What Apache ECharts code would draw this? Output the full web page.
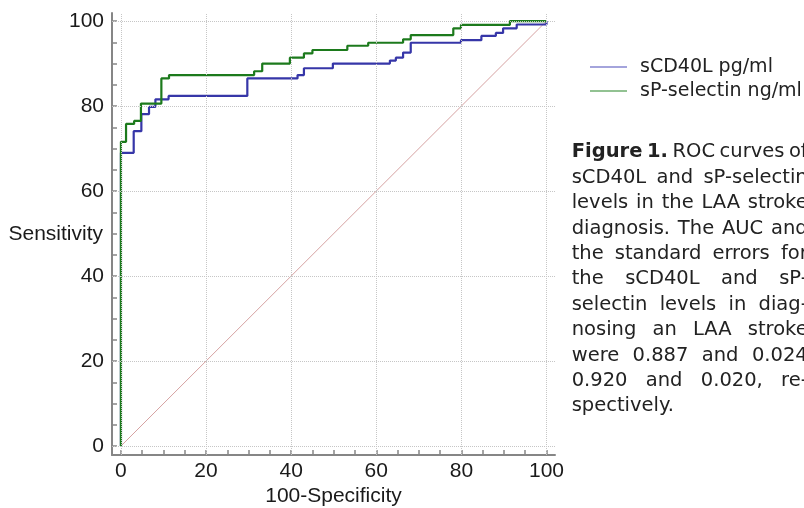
<!DOCTYPE html>
<html>
<head>
<meta charset="utf-8">
<script src="https://cdn.jsdelivr.net/npm/echarts@6/dist/echarts.min.js"></script>
<style>
html,body{margin:0;padding:0;background:#ffffff;}
#chart{width:804px;height:508px;}
</style>
</head>
<body>
<div id="chart"></div>
<script>
// ---- data ----
const seriesNames = ['sCD40L pg/ml', 'sP-selectin ng/ml'];

// sCD40L ROC operating points (100-Specificity, Sensitivity)
const sCD40L_fpr  = [0, 0, 3, 4.8, 6.6, 8.1, 11.2, 29.7, 41.5, 43, 49.8, 63.2, 64.6, 66.3, 68.1, 79.9, 84.7, 88.1, 89.8, 93, 100];
const sCD40L_sens = [0, 69, 74.1, 78.1, 79.8, 81.6, 82.4, 86.5, 87.3, 88.9, 90, 90.7, 91.4, 92.6, 94.9, 95.5, 96.5, 97.2, 98.3, 99.2, 100];

// sP-selectin ROC operating points
const sPsel_fpr  = [0, 0, 1.2, 3.1, 4.7, 9.5, 11.3, 31.3, 33.2, 39.7, 43, 45, 53.2, 58.1, 66.3, 68.1, 78.1, 79.9, 91.4, 100];
const sPsel_sens = [0, 71.6, 75.8, 76.5, 80.6, 86.5, 87.3, 88.2, 90, 91.4, 92.4, 93.2, 94.2, 94.9, 95.7, 96.7, 98.3, 99.1, 100, 100];

// chance (reference) diagonal
const refLineX = [0, 100];
const refLineY = [0, 100];

// axis tick labels, minor ticks and grid lines
const axisLabelValues = [0, 20, 40, 60, 80, 100];
const axisTickValues  = [0, 5, 10, 15, 20, 25, 30, 35, 40, 45, 50, 55, 60, 65, 70, 75, 80, 85, 90, 95, 100];
const gridLineValues  = [0, 20, 40, 60, 80, 100];

const xAxisName = '100-Specificity';
const yAxisName = 'Sensitivity';

const captionLines = [
  'Figure 1. ROC curves of',
  'sCD40L and sP-selectin',
  'levels in the LAA stroke',
  'diagnosis. The AUC and',
  'the standard errors for',
  'the sCD40L and sP-',
  'selectin levels in diag-',
  'nosing an LAA stroke',
  'were 0.887 and 0.024',
  '0.920 and 0.020, re-',
  'spectively.'
];

// ---- build chart ----
const zip = (xs, ys) => xs.map((x, i) => [x, ys[i]]);

const axisColor = '#868686';
const labelFont = 'Liberation Sans';
const labelSize = 21;

function makeAxis(min, max, name, isX) {
  return {
    type: 'value',
    min: min,
    max: max,
    name: name,
    nameLocation: 'middle',
    nameGap: isX ? 31 : 9,
    nameRotate: 0,
    nameMoveOverlap: false,
    nameTextStyle: isX
      ? { fontSize: labelSize, fontFamily: labelFont, color: '#1a1a1a' }
      : { fontSize: labelSize, fontFamily: labelFont, color: '#1a1a1a', align: 'right', verticalAlign: 'middle', padding: [0, 0, 8, 0] },
    axisLine: { show: true, onZero: false, lineStyle: { color: axisColor, width: 2 } },
    axisTick: { show: true, inside: true, length: 5, customValues: axisTickValues, lineStyle: { color: axisColor, width: 1.5 } },
    axisLabel: { customValues: axisLabelValues, margin: isX ? 6 : 8, fontSize: labelSize, fontFamily: labelFont, color: '#1a1a1a' },
    splitLine: { show: false },
    minorTick: { show: false }
  };
}

const gridMarkData = gridLineValues.map(v => ({ xAxis: v })).concat(gridLineValues.map(v => ({ yAxis: v })));

// caption as justified text (measured at runtime)
const capFontSize = 19.5;
const capFamily = 'DejaVu Sans';
const capLeft = 571.7;
const capWidth = 236;
const capBaseline0 = 158.3;
const capPitch = 25.4;
const measureCtx = document.createElement('canvas').getContext('2d');
function textWidth(t, bold) {
  measureCtx.font = (bold ? 'bold ' : 'normal ') + capFontSize + 'px "' + capFamily + '"';
  return measureCtx.measureText(t).width;
}
const captionGraphics = [];
captionLines.forEach((line, k) => {
  const words = line.split(' ');
  const bolds = words.map((w, i) => k === 0 && i < 2);
  const widths = words.map((w, i) => textWidth(w, bolds[i]));
  const sum = widths.reduce((a, b) => a + b, 0);
  const isLast = k === captionLines.length - 1;
  const gap = (isLast || words.length < 2) ? textWidth(' ', false) : (capWidth - sum) / (words.length - 1);
  let x = capLeft;
  const y = capBaseline0 + capPitch * k - 6;
  words.forEach((w, i) => {
    captionGraphics.push({
      type: 'text',
      x: x,
      y: y,
      silent: true,
      style: {
        text: w,
        fontSize: capFontSize,
        fontFamily: capFamily,
        fontWeight: bolds[i] ? 'bold' : 'normal',
        fill: '#222222',
        align: 'left',
        verticalAlign: 'middle'
      }
    });
    x += widths[i] + gap;
  });
});

const chart = echarts.init(document.getElementById('chart'), null, { renderer: 'canvas' });
chart.setOption({
  animation: false,
  backgroundColor: '#ffffff',
  grid: { left: 112, right: 249, top: 13, bottom: 53, containLabel: false, outerBoundsMode: 'none' },
  legend: {
    orient: 'vertical',
    left: 590,
    top: 55,
    padding: 0,
    itemGap: 0,
    icon: 'rect',
    itemWidth: 37,
    itemHeight: 2,
    textStyle: { fontSize: 19, fontFamily: 'DejaVu Sans', color: '#222222', lineHeight: 24, padding: [0, 0, 0, 8] },
    data: [
      { name: seriesNames[0], itemStyle: { color: '#a4a4dc' } },
      { name: seriesNames[1], itemStyle: { color: '#92c292' } }
    ],
    selectedMode: false
  },
  xAxis: makeAxis(-2.1, 102, xAxisName, true),
  yAxis: makeAxis(-2.1, 101.9, yAxisName, false),
  series: [
    {
      name: 'reference',
      type: 'line',
      z: 1,
      data: zip(refLineX, refLineY),
      symbol: 'none',
      silent: true,
      lineStyle: { color: '#d6a2a2', width: 1 },
      markLine: {
        silent: true,
        symbol: ['none', 'none'],
        label: { show: false },
        animation: false,
        lineStyle: { type: 'dotted', color: '#c6c6c6', width: 1 },
        emphasis: { disabled: true },
        data: gridMarkData
      }
    },
    {
      name: seriesNames[0],
      type: 'line',
      z: 3,
      step: 'end',
      data: zip(sCD40L_fpr, sCD40L_sens),
      symbol: 'none',
      lineStyle: { color: '#3636a8', width: 2.2 },
      itemStyle: { color: '#3636a8' }
    },
    {
      name: seriesNames[1],
      type: 'line',
      z: 4,
      step: 'end',
      data: zip(sPsel_fpr, sPsel_sens),
      symbol: 'none',
      lineStyle: { color: '#1c7a1c', width: 2.2 },
      itemStyle: { color: '#1c7a1c' }
    }
  ],
  graphic: captionGraphics
});
</script>
</body>
</html>
